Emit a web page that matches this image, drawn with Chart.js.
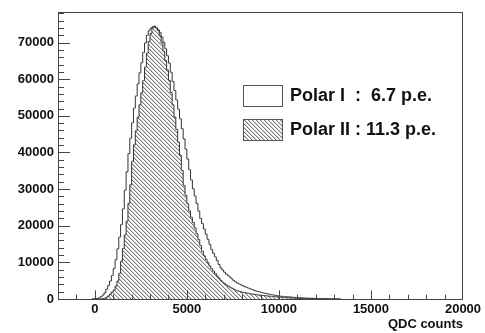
<!DOCTYPE html>
<html>
<head>
<meta charset="utf-8">
<style>
  html, body { margin: 0; padding: 0; background: #fff; }
  canvas { display: block; }
</style>
<script src="https://cdn.jsdelivr.net/npm/chart.js@4.4.1/dist/chart.umd.min.js"></script>
</head>
<body>
<canvas id="qdc" width="485" height="333"></canvas>
<script>
// Histogram binning (QDC channels)
const binLow = -200;
const binWidth = 100;

// Bin contents, one entry per 100-count bin starting at -200
const polarI = [
  0, 10,
  50, 150, 350, 650, 1050, 1700, 2700, 3700, 4900, 6400,
  8300, 10700, 13700, 16900, 20300, 24600, 29700, 34700, 39700, 43900,
  48100, 52100, 55400, 58700, 61750, 64500, 67300, 69900, 72000, 73200,
  73900, 74300, 74300, 74000, 73500, 72800, 71500, 70100, 68300, 66400,
  64400, 61900, 59400, 56900, 54300, 51800, 49200, 46500, 43700, 40900,
  38200, 35300, 32500, 30100, 28100, 26100, 24000, 22000, 20600, 19100,
  17700, 16300, 14900, 13500, 12500, 11500, 10500, 9400, 8500, 7900,
  7300, 6800, 6400, 6000, 5500, 5050, 4650, 4350, 4100, 3850,
  3600, 3380, 3180, 2980, 2780, 2580, 2380, 2200, 2070, 1940,
  1810, 1680, 1560, 1450, 1350, 1250, 1150, 1050, 950, 850,
  780, 740, 700, 650, 610, 570, 530, 490, 440, 400,
  360, 330, 310, 290, 270, 250, 230, 210, 190, 170,
  160, 140, 120, 100, 90, 80, 70, 60, 50, 40,
  30, 20, 10, 5
];

const polarII = [
  0, 0,
  0, 0, 10, 30, 80, 200, 450, 850, 1350, 1900,
  2450, 3500, 4900, 7000, 10300, 13800, 17500, 21200, 26100, 31200,
  37600, 42100, 45900, 49600, 53000, 56300, 59600, 63300, 67100, 70300,
  72500, 74000, 74500, 74000, 73300, 71800, 69900, 67600, 65100, 62500,
  59700, 56400, 53000, 49700, 46300, 42800, 39300, 35100, 31000, 28300,
  26000, 24000, 22300, 20900, 19400, 17800, 16200, 14600, 13000, 11800,
  10800, 9900, 9000, 8300, 7600, 7000, 6300, 5700, 5100, 4600,
  4200, 3850, 3550, 3250, 2950, 2700, 2420, 2250, 2100, 1950,
  1830, 1720, 1640, 1550, 1460, 1380, 1300, 1200, 1120, 1060,
  1000, 950, 900, 850, 800, 750, 700, 650, 600, 560,
  520, 480, 440, 400, 360, 320, 290, 260, 230, 200,
  180, 160, 140, 120, 100, 90, 80, 70, 60, 50,
  40, 35, 30, 25, 20, 15, 10, 5, 0, 0,
  0, 0, 0, 0
];

const seriesLabels = ['Polar I  :  6.7 p.e.', 'Polar II : 11.3 p.e.'];
const xTickValues = [0, 5000, 10000, 15000, 20000];
const yTickValues = [0, 10000, 20000, 30000, 40000, 50000, 60000, 70000];
const xRange = [-2000, 20000];
const yRange = [0, 78400];
const xMinorStep = 1000;
const yMinorStep = 2000;
const xTitle = 'QDC counts';

function toPoints(counts) {
  return counts.map((c, i) => ({ x: binLow + (i + 0.5) * binWidth, y: c }));
}

// Diagonal (\) hatch fill, drawn pixel by pixel so the lines stay crisp
function makeHatch() {
  const s = 4;
  const c = document.createElement('canvas');
  c.width = s; c.height = s;
  const g = c.getContext('2d');
  g.fillStyle = '#fff';
  g.fillRect(0, 0, s, s);
  for (let i = 0; i < s; i++) {
    g.fillStyle = '#7a7a7a';
    g.fillRect(i, i, 1, 1);
    g.fillStyle = '#cfcfcf';
    g.fillRect((i + 1) % s, i, 1, 1);
  }
  return g.createPattern(c, 'repeat');
}
const hatch = makeHatch();

const FONT = "'Liberation Sans', Arial, Helvetica, sans-serif";

// Frame, inward ticks and the boxed legend
const framePlugin = {
  id: 'frame',
  afterDraw(chart) {
    const { ctx, chartArea: a, scales } = chart;
    const xs = scales.x, ys = scales.y;
    ctx.save();
    ctx.strokeStyle = '#444';
    ctx.lineWidth = 1;
    ctx.strokeRect(Math.round(a.left) + 0.5, Math.round(a.top) + 0.5,
                   Math.round(a.right - a.left) - 1, Math.round(a.bottom - a.top));

    const h = a.bottom - a.top, w = a.right - a.left;
    const xMajorLen = 0.03 * h, yMajorLen = 0.03 * w;
    ctx.beginPath();
    for (let v = xRange[0] + xMinorStep; v < xRange[1]; v += xMinorStep) {
      const px = Math.round(xs.getPixelForValue(v)) + 0.5;
      const len = xTickValues.includes(v) ? xMajorLen : xMajorLen / 2;
      ctx.moveTo(px, a.bottom);
      ctx.lineTo(px, a.bottom - len);
    }
    for (let v = yRange[0] + yMinorStep; v < yRange[1]; v += yMinorStep) {
      const py = Math.round(ys.getPixelForValue(v)) + 0.5;
      const len = yTickValues.includes(v) ? yMajorLen : yMajorLen / 2;
      ctx.moveTo(a.left, py);
      ctx.lineTo(a.left + len, py);
    }
    ctx.stroke();

    // legend
    const lg = chart.options.plugins.frame.legend;
    chart.data.datasets.forEach((ds, i) => {
      const bx = lg.x, by = lg.y + i * lg.rowGap;
      ctx.fillStyle = i === 0 ? '#fff' : hatch;
      ctx.fillRect(bx, by, lg.boxW, lg.boxH);
      ctx.strokeStyle = '#555';
      ctx.strokeRect(bx + 0.5, by + 0.5, lg.boxW, lg.boxH);
      ctx.fillStyle = '#111';
      ctx.font = 'bold 18px ' + FONT;
      ctx.textBaseline = 'middle';
      ctx.textAlign = 'left';
      ctx.fillText(ds.label, bx + lg.boxW + 8, by + lg.boxH / 2 + 1);
    });
    ctx.restore();
  }
};

new Chart(document.getElementById('qdc'), {
  type: 'line',
  data: {
    datasets: [
      {
        label: seriesLabels[0],
        data: toPoints(polarI),
        stepped: 'middle',
        borderColor: '#333',
        borderWidth: 1,
        pointRadius: 0,
        fill: false,
        order: 0
      },
      {
        label: seriesLabels[1],
        data: toPoints(polarII),
        stepped: 'middle',
        borderColor: '#333',
        borderWidth: 1,
        pointRadius: 0,
        backgroundColor: hatch,
        fill: 'origin',
        order: 1
      }
    ]
  },
  options: {
    responsive: false,
    animation: false,
    events: [],
    layout: { padding: { left: 0, right: 22, top: 8, bottom: 0 } },
    plugins: {
      legend: { display: false },
      tooltip: { enabled: false },
      frame: { legend: { x: 243, y: 85, boxW: 39, boxH: 21, rowGap: 34 } }
    },
    scales: {
      x: {
        type: 'linear',
        min: xRange[0],
        max: xRange[1],
        grid: { display: false, drawTicks: false },
        border: { display: false },
        afterBuildTicks(scale) { scale.ticks = xTickValues.map(v => ({ value: v })); },
        afterFit(scale) { scale.height = 34; },
        ticks: {
          padding: 3,
          maxRotation: 0,
          autoSkip: false,
          color: '#111',
          font: { family: FONT, size: 13, weight: 'bold' },
          callback: v => String(v)
        },
        title: {
          display: true,
          text: xTitle,
          align: 'end',
          color: '#111',
          font: { family: FONT, size: 13, weight: 'bold' },
          padding: { top: 0, bottom: 1 }
        }
      },
      y: {
        type: 'linear',
        min: yRange[0],
        max: yRange[1],
        grid: { display: false, drawTicks: false },
        border: { display: false },
        afterBuildTicks(scale) { scale.ticks = yTickValues.map(v => ({ value: v })); },
        afterFit(scale) { scale.width = 58; },
        ticks: {
          padding: 4,
          autoSkip: false,
          color: '#111',
          font: { family: FONT, size: 13, weight: 'bold' },
          callback: v => String(v)
        }
      }
    }
  },
  plugins: [framePlugin]
});
</script>
</body>
</html>
